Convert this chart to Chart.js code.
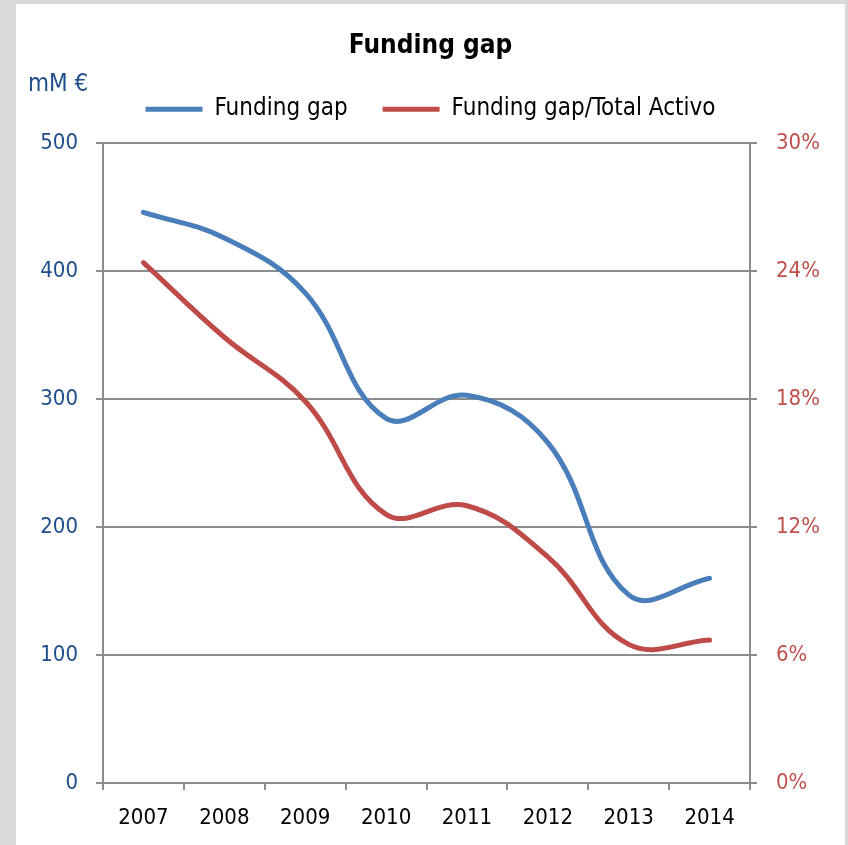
<!DOCTYPE html>
<html>
<head>
<meta charset="utf-8">
<title>Funding gap</title>
<script src="https://cdn.jsdelivr.net/npm/chart.js@4/dist/chart.umd.min.js"></script>
<style>
  html, body { margin: 0; padding: 0; background: #d9d9d9; }
  #wrap { position: absolute; left: 0; top: 0; width: 848px; height: 845px; }
</style>
</head>
<body>
<div id="wrap"><canvas id="gap-chart" width="848" height="845"></canvas></div>
<script>
//Data
var years = ["2007", "2008", "2009", "2010", "2011", "2012", "2013", "2014"];
var fundingGap = [446, 426, 383, 285, 303, 266, 147, 160];          // mM €
var fundingGapPct = [24.4, 20.9, 17.9, 12.6, 13.0, 10.6, 6.5, 6.7]; // % of total assets
var leftTicks = [0, 100, 200, 300, 400, 500];
var rightTicks = [0, 6, 12, 18, 24, 30];

var FONT = "'Liberation Sans Narrow', 'DejaVu Sans Condensed', 'Noto Sans', sans-serif";
var BLUE = "#4a7ebb", RED = "#be4b48";
var GRID = "#8c8c8c";

//white panel over the grey page + unit label
var panelPlugin = {
  id: "panel",
  beforeDraw: function(chart) {
    var ctx = chart.ctx;
    ctx.save();
    ctx.fillStyle = "#d9d9d9";
    ctx.fillRect(0, 0, chart.width, chart.height);
    ctx.fillStyle = "#ffffff";
    ctx.fillRect(16, 4, chart.width - 19, chart.height - 4);
    ctx.restore();
  },
  afterDraw: function(chart) {
    var ctx = chart.ctx;
    ctx.save();
    ctx.font = "24px " + FONT;
    ctx.fillStyle = "#1f4e8c";
    ctx.textBaseline = "middle";
    ctx.fillText("mM €", 28, 85);
    ctx.restore();
  }
};

var gapChart = new Chart(document.getElementById("gap-chart"), {
  type: "line",
  data: {
    labels: years,
    datasets: [
      {
        label: "Funding gap",
        data: fundingGap,
        borderColor: BLUE,
        backgroundColor: BLUE,
        borderWidth: 5,
        borderCapStyle: "round",
        pointRadius: 0,
        tension: 0.4,
        yAxisID: "y"
      },
      {
        label: "Funding gap/Total Activo",
        data: fundingGapPct,
        borderColor: RED,
        backgroundColor: RED,
        borderWidth: 5,
        borderCapStyle: "round",
        pointRadius: 0,
        tension: 0.4,
        yAxisID: "y1"
      }
    ]
  },
  options: {
    responsive: false,
    animation: false,
    layout: { padding: { left: 16, right: 3, top: 4, bottom: 0 } },
    plugins: {
      title: {
        display: true,
        text: "Funding gap",
        color: "#000",
        font: { family: FONT, size: 26, weight: "bold" },
        padding: { top: 27, bottom: 0 }
      },
      // empty spacer between legend and plot
      subtitle: {
        display: true,
        text: "",
        weight: 500,
        font: { size: 11, lineHeight: 1 },
        padding: { top: 0, bottom: 1 }
      },
      legend: {
        display: true,
        position: "top",
        labels: {
          color: "#000",
          font: { family: FONT, size: 24 },
          boxWidth: 57,
          boxHeight: 5,
          padding: 35,
          generateLabels: function(chart) {
            return chart.data.datasets.map(function(ds, i) {
              return {
                text: ds.label,
                fillStyle: ds.borderColor,
                strokeStyle: ds.borderColor,
                lineWidth: 0,
                datasetIndex: i,
                fontColor: "#000"
              };
            });
          }
        }
      },
      tooltip: { enabled: false }
    },
    scales: {
      x: {
        offset: true,
        grid: {
          display: true,
          offset: true,
          drawOnChartArea: false,
          color: GRID,
          lineWidth: 2,
          tickLength: 7
        },
        border: { color: GRID, width: 2 },
        ticks: {
          color: "#000",
          font: { family: FONT, size: 22 },
          padding: 15,
          maxRotation: 0
        },
        afterFit: function(scale) { scale.height = 62; }
      },
      y: {
        position: "left",
        min: 0,
        max: 500,
        afterBuildTicks: function(scale) {
          scale.ticks = leftTicks.map(function(v) { return { value: v }; });
        },
        grid: { color: GRID, lineWidth: 2, tickLength: 7 },
        border: { color: GRID, width: 2 },
        ticks: {
          color: "#1f4e8c",
          font: { family: FONT, size: 22 },
          padding: 18
        },
        afterFit: function(scale) { scale.width = 87; }
      },
      y1: {
        position: "right",
        min: 0,
        max: 30,
        afterBuildTicks: function(scale) {
          scale.ticks = rightTicks.map(function(v) { return { value: v }; });
        },
        grid: { drawOnChartArea: false, color: GRID, lineWidth: 2, tickLength: 7 },
        border: { color: GRID, width: 2 },
        ticks: {
          color: "#c0504d",
          font: { family: FONT, size: 22 },
          padding: 19,
          callback: function(v) { return v + "%"; }
        },
        afterFit: function(scale) { scale.width = 95; }
      }
    }
  },
  plugins: [panelPlugin]
});
</script>
</body>
</html>
